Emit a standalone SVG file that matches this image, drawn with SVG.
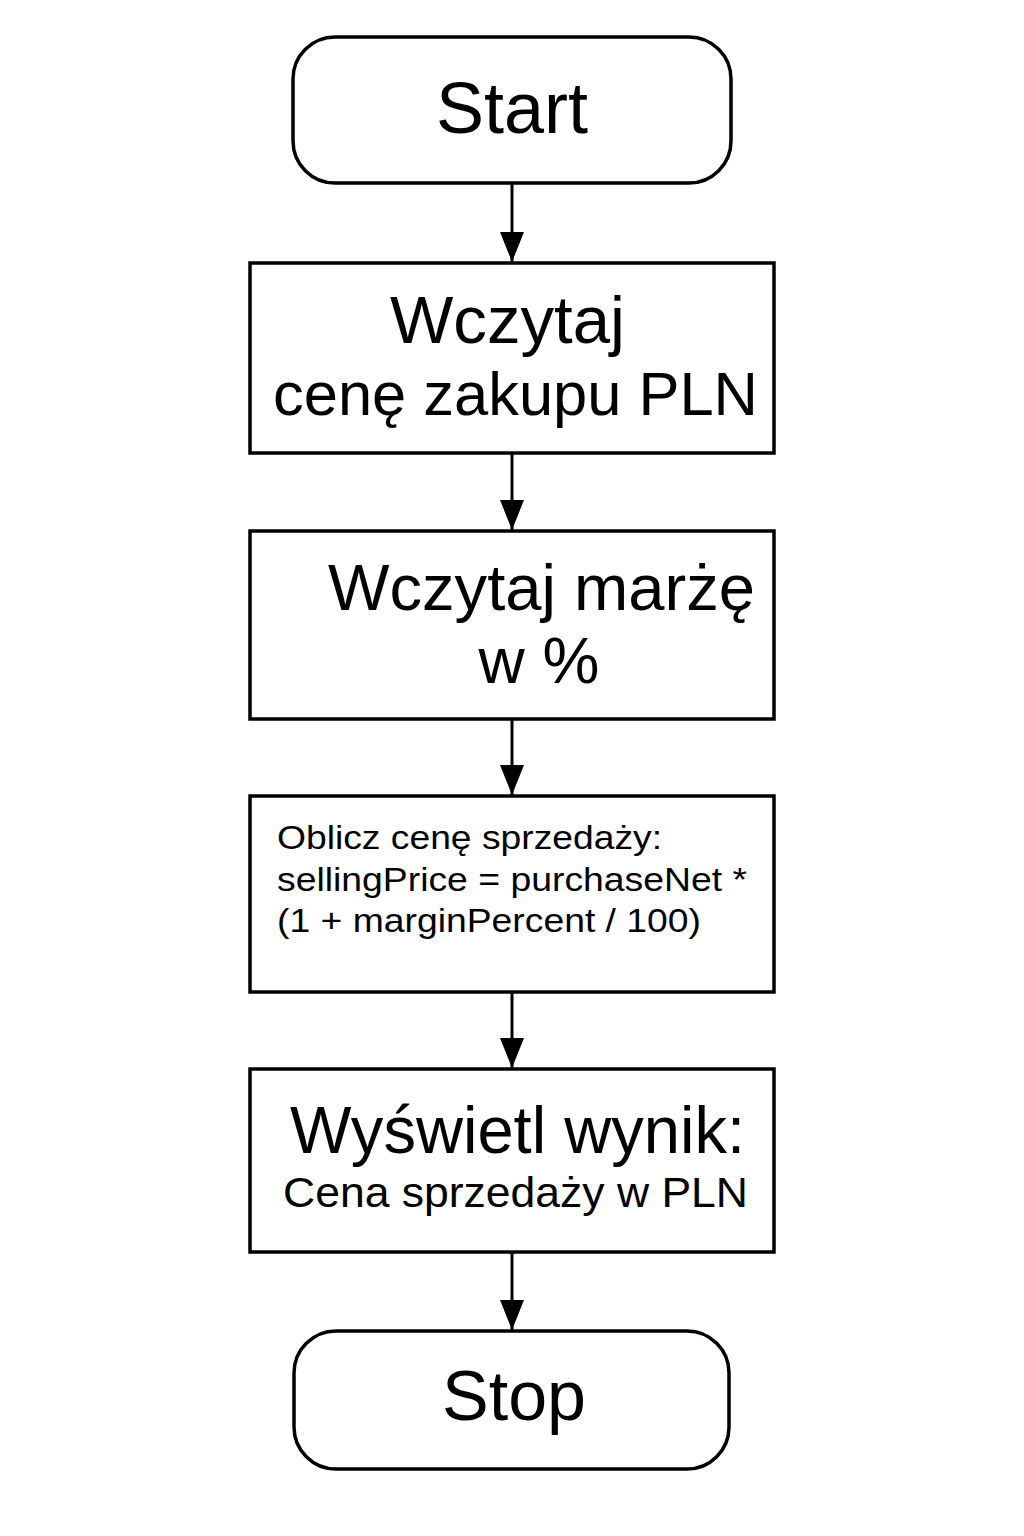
<svg xmlns="http://www.w3.org/2000/svg" width="1024" height="1536" viewBox="0 0 1024 1536">
<defs>
<marker id="arr" markerWidth="30" markerHeight="24" refX="30" refY="12" orient="auto" markerUnits="userSpaceOnUse" viewBox="0 0 30 24">
<path d="M0,0 L30,12 L0,24 Z" fill="#000"/>
</marker>
<style>
.box{fill:#fff;stroke:#000;stroke-width:3.5}
.t{font-family:"Liberation Sans",Arial,sans-serif;fill:#000}
.c{stroke:#000;stroke-width:3;fill:none}
</style>
</defs>
<rect width="1024" height="1536" fill="#fff"/>
<g id="connectors">
<line class="c" x1="512" y1="183" x2="512" y2="262" marker-end="url(#arr)"/>
<line class="c" x1="512" y1="453" x2="512" y2="530" marker-end="url(#arr)"/>
<line class="c" x1="512" y1="719" x2="512" y2="795" marker-end="url(#arr)"/>
<line class="c" x1="512" y1="992" x2="512" y2="1068" marker-end="url(#arr)"/>
<line class="c" x1="512" y1="1252" x2="512" y2="1330" marker-end="url(#arr)"/>
</g>
<g id="start">
<rect class="box" x="293" y="37" width="438" height="146" rx="42"/>
<text class="t" x="512" y="133" font-size="72" text-anchor="middle">Start</text>
</g>
<g id="read-price">
<rect class="box" x="250" y="263" width="524" height="190"/>
<text class="t" x="390" y="343" font-size="67" textLength="235" lengthAdjust="spacingAndGlyphs">Wczytaj</text>
<text class="t" x="273" y="415" font-size="62" textLength="485" lengthAdjust="spacingAndGlyphs">cenę zakupu PLN</text>
</g>
<g id="read-margin">
<rect class="box" x="250" y="531" width="524" height="188"/>
<text class="t" x="328" y="610" font-size="65" textLength="427" lengthAdjust="spacingAndGlyphs">Wczytaj marżę</text>
<text class="t" x="539" y="683" font-size="64" text-anchor="middle">w %</text>
</g>
<g id="calc">
<rect class="box" x="250" y="796" width="524" height="196"/>
<text class="t" x="277" y="849" font-size="34" textLength="385" lengthAdjust="spacingAndGlyphs">Oblicz cenę sprzedaży:</text>
<text class="t" x="277" y="891" font-size="34" textLength="470" lengthAdjust="spacingAndGlyphs">sellingPrice = purchaseNet *</text>
<text class="t" x="277" y="932" font-size="34" textLength="424" lengthAdjust="spacingAndGlyphs">(1 + marginPercent / 100)</text>
</g>
<g id="display">
<rect class="box" x="250" y="1069" width="524" height="183"/>
<text class="t" x="290" y="1153" font-size="66" textLength="455" lengthAdjust="spacingAndGlyphs">Wyświetl wynik:</text>
<text class="t" x="283" y="1207" font-size="43" textLength="465" lengthAdjust="spacingAndGlyphs">Cena sprzedaży w PLN</text>
</g>
<g id="stop">
<rect class="box" x="294" y="1331" width="435" height="138" rx="42"/>
<text class="t" x="514" y="1420" font-size="70" text-anchor="middle">Stop</text>
</g>
</svg>
